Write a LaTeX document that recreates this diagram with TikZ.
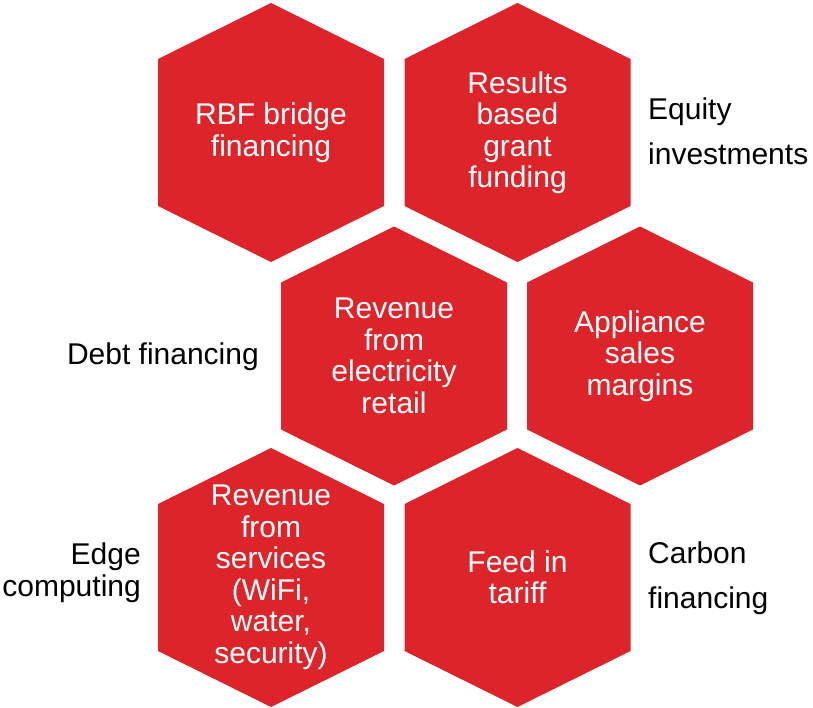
\documentclass[tikz,border=0pt]{standalone}
\usepackage{fontspec}
\setmainfont{Liberation Sans}
\definecolor{hexred}{RGB}{220,36,42}
\begin{document}
\begin{tikzpicture}[x=1pt,y=-1pt,
	hexfill/.style={fill=hexred},
	hextext/.style={text=white,align=center,inner sep=0pt,font=\fontsize{30}{31.5}\selectfont},
	sidetext/.style={text=black,inner sep=0pt,font=\fontsize{30}{31.5}\selectfont}]
	\useasboundingbox (0,0) rectangle (813,708);
	\foreach \n/\x/\y/\t in {rbf/271/132.5/{RBF bridge\\financing},
		grant/517.5/132.5/{Results\\based\\grant\\funding},
		retail/394/356/{Revenue\\from\\electricity\\retail},
		appl/640/356/{Appliance\\sales\\margins},
		serv/271/577.5/{Revenue\\from\\services\\(WiFi,\\water,\\security)},
		feed/517.5/577.5/{Feed in\\tariff}}{
		\fill[hexfill] (\x,\y) ++(0,-129.5) -- ++(113,56) -- ++(0,147) -- ++(-113,56) -- ++(-113,-56) -- ++(0,-147) -- cycle;
		\node[hextext] (\n) at (\x,\y) {\t};
	}
	\node[sidetext,anchor=west,align=left,font=\fontsize{30}{45}\selectfont] (equity) at (648,131) {Equity\\investments};
	\node[sidetext,anchor=east] (debt) at (259,356.5) {Debt financing};
	\node[sidetext,anchor=east,align=right] (edge) at (141,572.5) {Edge\\computing};
	\node[sidetext,anchor=west,align=left,font=\fontsize{30}{45}\selectfont] (carbon) at (648,578) {Carbon\\financing};
\end{tikzpicture}
\end{document}
